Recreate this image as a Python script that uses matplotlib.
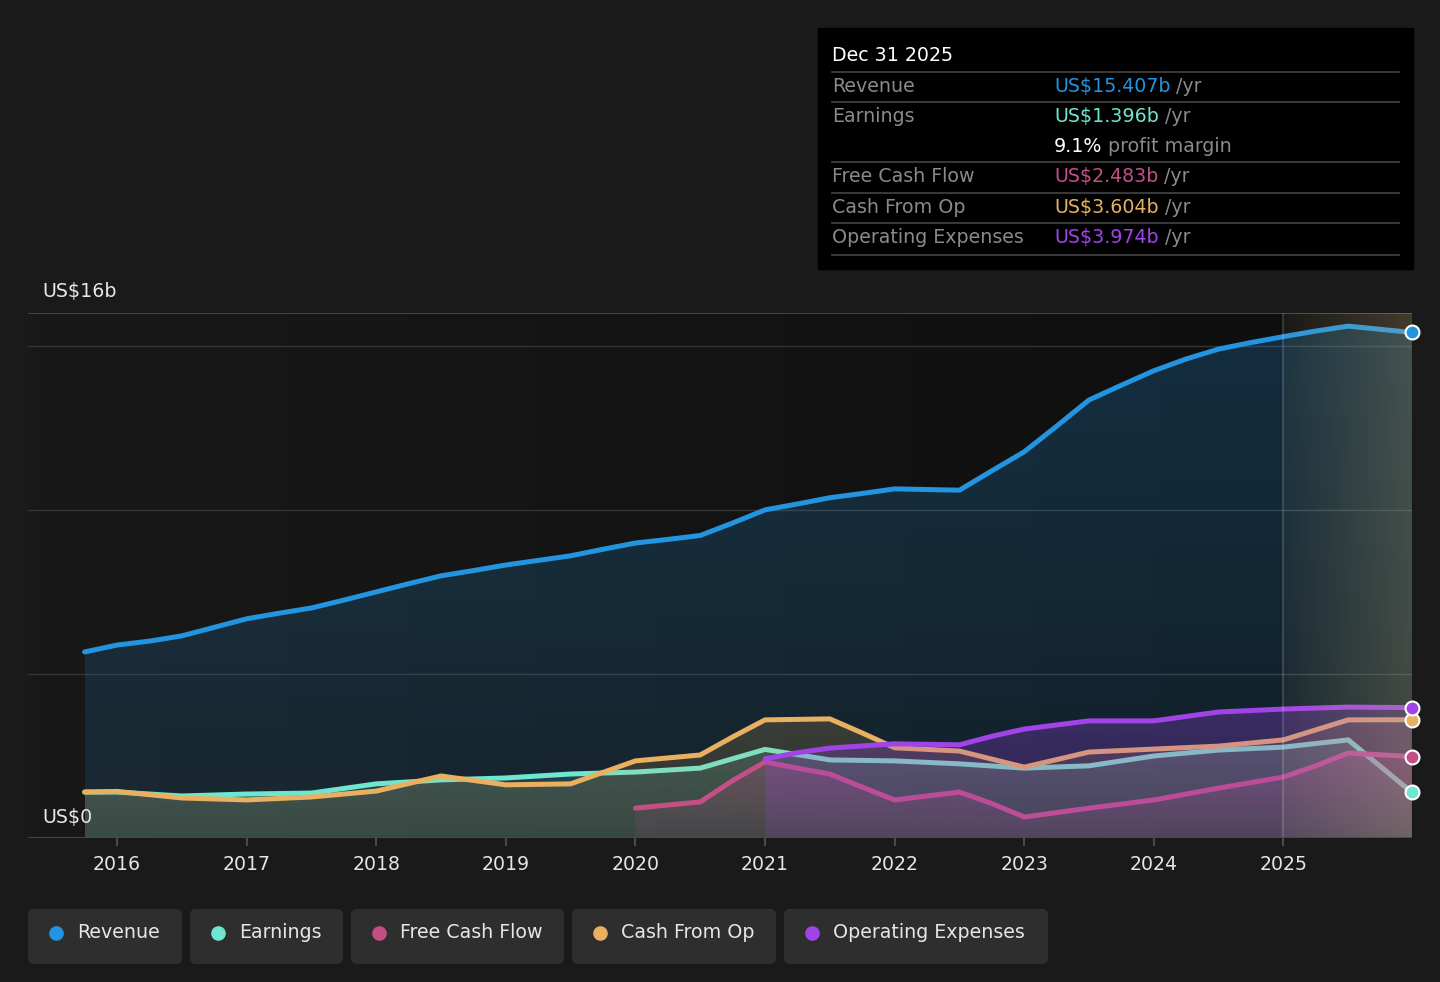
import matplotlib.pyplot as plt
import numpy as np
from matplotlib.patches import FancyBboxPatch, Rectangle

# ---- data (US$ billions, decimal years) ----
rev_t = [2015.75, 2016.0, 2016.25, 2016.5, 2016.75, 2017.0, 2017.25, 2017.5, 2017.75,
         2018.0, 2018.25, 2018.5, 2018.75, 2019.0, 2019.25, 2019.5, 2019.75, 2020.0,
         2020.25, 2020.5, 2020.75, 2021.0, 2021.25, 2021.5, 2021.75, 2022.0, 2022.25,
         2022.5, 2022.75, 2023.0, 2023.25, 2023.5, 2023.75, 2024.0, 2024.25, 2024.5,
         2024.75, 2025.0, 2025.25, 2025.5, 2025.99]
revenue = [5.67, 5.88, 6.0, 6.16, 6.42, 6.68, 6.85, 7.01, 7.25,
           7.5, 7.75, 7.99, 8.15, 8.32, 8.46, 8.6, 8.8, 8.99,
           9.1, 9.22, 9.6, 10.0, 10.18, 10.37, 10.5, 10.64, 10.62,
           10.6, 11.19, 11.77, 12.55, 13.35, 13.8, 14.24, 14.6, 14.9,
           15.1, 15.28, 15.45, 15.6, 15.407]

earn_t = [2015.75, 2016.0, 2016.5, 2017.0, 2017.5, 2018.0, 2018.5, 2019.0, 2019.5,
          2020.0, 2020.5, 2021.0, 2021.5, 2022.0, 2022.5, 2023.0, 2023.5, 2024.0,
          2024.5, 2025.0, 2025.5, 2025.99]
earnings = [1.40, 1.40, 1.28, 1.34, 1.37, 1.65, 1.77, 1.83, 1.95,
            2.01, 2.13, 2.70, 2.38, 2.35, 2.26, 2.13, 2.20, 2.50,
            2.68, 2.77, 2.99, 1.396]

cfo_t = [2015.75, 2016.0, 2016.5, 2017.0, 2017.5, 2018.0, 2018.5, 2019.0, 2019.5,
         2020.0, 2020.5, 2020.75, 2021.0, 2021.5, 2021.75, 2022.0, 2022.5, 2023.0,
         2023.5, 2024.0, 2024.5, 2025.0, 2025.5, 2025.99]
cash_op = [1.40, 1.42, 1.22, 1.16, 1.25, 1.43, 1.89, 1.62, 1.65,
           2.35, 2.53, 3.08, 3.60, 3.63, 3.20, 2.75, 2.65, 2.16,
           2.62, 2.71, 2.80, 2.99, 3.60, 3.604]

fcf_t = [2020.0, 2020.5, 2020.75, 2021.0, 2021.25, 2021.5, 2021.75, 2022.0, 2022.25,
         2022.5, 2022.75, 2023.0, 2023.5, 2024.0, 2024.5, 2025.0, 2025.25, 2025.5, 2025.99]
fcf = [0.91, 1.10, 1.75, 2.32, 2.13, 1.95, 1.55, 1.16, 1.28,
       1.40, 1.05, 0.64, 0.91, 1.16, 1.52, 1.86, 2.20, 2.59, 2.483]

opex_t = [2021.0, 2021.25, 2021.5, 2022.0, 2022.5, 2022.75, 2023.0, 2023.5, 2024.0,
          2024.5, 2025.0, 2025.5, 2025.99]
opex = [2.41, 2.60, 2.74, 2.87, 2.84, 3.10, 3.32, 3.57, 3.57,
        3.84, 3.93, 3.99, 3.974]

years = list(range(2016, 2026))

c_rev = '#2394df'
c_earn = '#6ee6d0'
c_fcf = '#c44f86'
c_cfo = '#e8b060'
c_opex = '#a044e8'
bg = '#1a1a1a'

W, H = 1440, 982
fig = plt.figure(figsize=(W / 100, H / 100), dpi=100, facecolor=bg)
ax = fig.add_axes([28 / W, 1 - 838 / H, (1412 - 28) / W, (838 - 313) / H])
x0, x1 = 2015.313, 2025.992
ax.set_xlim(x0, x1)
ax.set_ylim(0, 16)
ax.set_facecolor(bg)
for s in ax.spines.values():
    s.set_visible(False)

# darker plot background towards the right
grad = np.linspace(0, 1, 256)
bgimg = np.zeros((1, 256, 3))
for i in range(3):
    bgimg[0, :, i] = (0x19 - (0x19 - 0x0f) * grad) / 255
ax.imshow(bgimg, extent=[x0, 2025.0, 0, 16], aspect='auto', zorder=0)
ax.add_patch(Rectangle((2025.0, 0), x1 - 2025.0, 16, color='#0f0f0f', zorder=0))

for v in [5, 10, 15]:
    ax.axhline(v, color='#333333', lw=1, zorder=1)
ax.axhline(16, color='#4a4a4a', lw=1.3, zorder=1)

# (times, values, colour, alpha at bottom, alpha at line)
series = [
    (rev_t, revenue, c_rev, 0.12, 0.24),
    (earn_t, earnings, c_earn, 0.12, 0.18),
    (cfo_t, cash_op, c_cfo, 0.12, 0.18),
    (fcf_t, fcf, c_fcf, 0.10, 0.30),
    (opex_t, opex, c_opex, 0.15, 0.30),
]
z = 2
for t, v, c, a_lo, a_hi in series:
    poly = ax.fill_between(t, 0, v, color='none', lw=0, zorder=z)
    rgb = plt.matplotlib.colors.to_rgb(c)
    g = np.zeros((128, 1, 4))
    g[:, 0, :3] = rgb
    g[:, 0, 3] = np.linspace(a_hi, a_lo, 128)
    im = ax.imshow(g, extent=[t[0], t[-1], 0, max(v)], aspect='auto', zorder=z)
    im.set_clip_path(poly.get_paths()[0], transform=ax.transData)
    ax.plot(t, v, color=c, lw=3.6, solid_capstyle='round', solid_joinstyle='round', zorder=z + 0.5)
    z += 1

# latest-year highlight
ov = np.zeros((1, 256, 4))
ov[0, :, 0] = 0.82
ov[0, :, 1] = 0.74
ov[0, :, 2] = 0.50
ov[0, :, 3] = 0.06 + 0.2 * grad
ax.imshow(ov, extent=[2025.0, x1, 0, 16], aspect='auto', zorder=10)
ax.axvline(2025.0, color='#ffffff', alpha=0.15, lw=1.5, zorder=10)

for t, v, c, a_lo, a_hi in series:
    ax.plot(t[-1], v[-1], 'o', ms=10, mfc=c, mec='white', mew=1.5, zorder=12, clip_on=False)

ax.axhline(0, color='#4a4a4a', lw=2, zorder=11)
ax.set_xticks(years)
ax.set_xticklabels([str(y) for y in years])
ax.tick_params(axis='x', length=6, width=1.5, color='#4a4a4a', labelcolor='#e6e6e6',
               labelsize=13.6, pad=6)
ax.set_yticks([])

# ---- pixel-space overlay ----
ov_ax = fig.add_axes([0, 0, 1, 1], zorder=20)
ov_ax.set_xlim(0, W)
ov_ax.set_ylim(H, 0)
ov_ax.axis('off')
ov_ax.patch.set_visible(False)

fs = 13.7
ov_ax.text(42, 291, 'US$16b', color='#e6e6e6', fontsize=fs, va='center')
ov_ax.text(42, 818, 'US$0', color='#e6e6e6', fontsize=fs, va='center')

# tooltip
ov_ax.add_patch(Rectangle((818, 28), 595, 241, color='black'))
ov_ax.text(832, 55, 'Dec 31 2025', color='white', fontsize=fs, va='center')
for yy in [72, 102, 162, 193, 223, 255]:
    ov_ax.plot([832, 1399], [yy, yy], color='#444444', lw=1.2)

rows = [
    (86, 'Revenue', 'US$15.407b', c_rev),
    (116, 'Earnings', 'US$1.396b', c_earn),
    (176, 'Free Cash Flow', 'US$2.483b', c_fcf),
    (207, 'Cash From Op', 'US$3.604b', c_cfo),
    (237, 'Operating Expenses', 'US$3.974b', c_opex),
]
for yy, lab, val, c in rows:
    ov_ax.text(832, yy, lab, color='#8a8a8a', fontsize=fs, va='center')
    tv = ov_ax.text(1054, yy, val, color=c, fontsize=fs, va='center')
    ov_ax.annotate(' /yr', xy=(1, 0), xycoords=tv, color='#8a8a8a', fontsize=fs, va='bottom')
tm = ov_ax.text(1054, 146, '9.1%', color='white', fontsize=fs, va='center')
ov_ax.annotate(' profit margin', xy=(1, 0), xycoords=tm, color='#8a8a8a', fontsize=fs, va='bottom')

# legend buttons
legend = [
    ('Revenue', c_rev, 28, 182),
    ('Earnings', c_earn, 190, 343),
    ('Free Cash Flow', c_fcf, 351, 564),
    ('Cash From Op', c_cfo, 572, 776),
    ('Operating Expenses', c_opex, 784, 1048),
]
for lab, c, xa, xb in legend:
    ov_ax.add_patch(FancyBboxPatch((xa, 909), xb - xa, 55,
                                   boxstyle='round,pad=0,rounding_size=6',
                                   fc='#2e2e2e', ec='none'))
    ov_ax.plot(xa + 28, 933, 'o', ms=9.5, color=c)
    ov_ax.text(xa + 49, 933, lab, color='#e6e6e6', fontsize=fs, va='center')

fig.savefig('out.png', dpi=100, facecolor=bg)
